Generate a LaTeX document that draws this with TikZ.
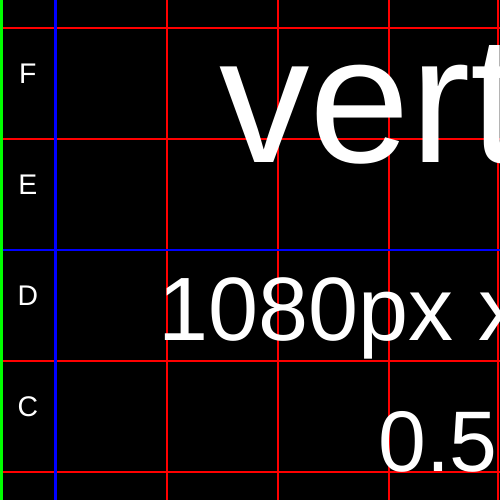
\documentclass[tikz,border=0pt]{standalone}
\usepackage{fontspec}
\setmainfont{Liberation Sans}
\tikzset{
  redline/.style={draw=red,line width=2.2pt},
  blueline/.style={draw=blue,line width=2.2pt},
  rowlabel/.style={text=white,inner sep=0pt,anchor=base,font=\fontsize{28.4}{28.4}\selectfont},
  bigtext/.style={text=white,inner sep=0pt,anchor=base west}
}
\begin{document}
\begin{tikzpicture}[x=1pt,y=-1pt,line cap=butt]
  \useasboundingbox (0,0) rectangle (500,500);
  \clip (0,0) rectangle (500,500);
  \fill[black] (0,0) rectangle (500,500);

  % grid
  \foreach \y in {27.8,138.9,361.1,472.1}
    \draw[redline] (0,\y) -- (500,\y);
  \foreach \x in {167.0,277.7,389.2,498.3}
    \draw[redline] (\x,0) -- (\x,500);
  \draw[blueline] (0,250) -- (500,250);
  \draw[blueline] (55.5,0) -- (55.5,500);
  \fill[green] (0,0) rectangle (2.7,500);

  % row letters
  \foreach \lab [count=\i] in {F,E,D,C}
    \node[rowlabel] (row\lab) at (27.8,{83.3+111.1*(\i-1)}) {\lab};

  \node[bigtext,font=\fontsize{181}{181}\selectfont] (vert) at (219,162) {vert};
  \node[bigtext,font=\fontsize{90}{90}\selectfont] (size) at (158.3,340) {1080px x};
  \node[bigtext,font=\fontsize{86}{86}\selectfont] (ratio) at (378,471.5) {0.5};
\end{tikzpicture}
\end{document}
